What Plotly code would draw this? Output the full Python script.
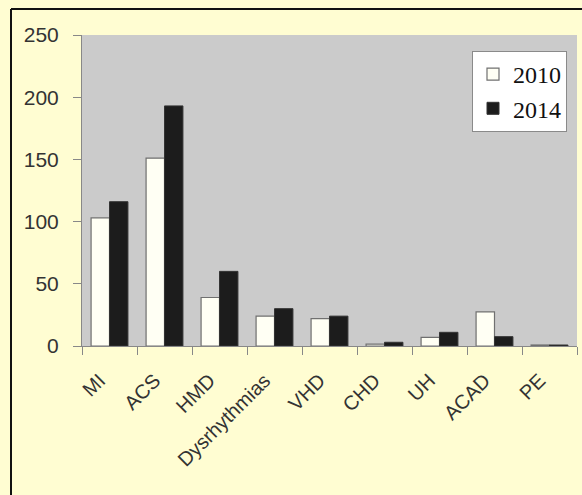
import plotly.graph_objects as go

categories = ["MI", "ACS", "HMD", "Dysrhythmias", "VHD", "CHD", "UH", "ACAD", "PE"]
values_2010 = [103, 151, 39, 24, 22, 1.5, 7, 27.5, 0.8]
values_2014 = [116, 193, 60, 30, 24, 3, 11, 7.5, 0.8]
y_ticks = [0, 50, 100, 150, 200, 250]

W, H = 582, 495
L, R, T, B = 82, 5, 35, 149
pw, ph = W - L - R, H - T - B

def px(x):
    return (x - L) / pw

def py(y):
    return (H - B - y) / ph

fig = go.Figure()
fig.add_bar(x=categories, y=values_2010, name="2010",
            marker=dict(color="#fffff4", line=dict(color="#707070", width=1.2)))
fig.add_bar(x=categories, y=values_2014, name="2014",
            marker=dict(color="#1c1c1c", line=dict(color="#333333", width=1)))

fig.update_layout(
    width=W, height=H,
    margin=dict(l=L, r=R, t=T, b=B),
    paper_bgcolor="#fffdd2",
    plot_bgcolor="#cbcbcb",
    barmode="group", bargap=0.33, bargroupgap=0,
    font=dict(family="Liberation Sans, Arial, sans-serif", color="#333333"),
    legend=dict(x=px(567), y=py(51), xanchor="right", yanchor="top",
                bgcolor="white", bordercolor="#8a8a8a", borderwidth=1,
                font=dict(family="Liberation Serif, Times New Roman, serif", size=24, color="#111111"),
                tracegroupgap=0, itemwidth=30),
    shapes=[
        dict(type="line", xref="paper", yref="paper", x0=px(11), x1=px(11), y0=py(9), y1=py(495),
             line=dict(color="#111111", width=2)),
        dict(type="line", xref="paper", yref="paper", x0=px(11), x1=px(582), y0=py(9), y1=py(9),
             line=dict(color="#111111", width=2)),
    ],
)
fig.update_xaxes(
    range=[-0.5, len(categories) - 0.5],
    tickangle=-45, tickfont=dict(size=20, color="#333333"),
    ticks="outside", tickson="boundaries", ticklen=8, tickcolor="#888888",
    ticklabelstandoff=14, ticklabelshift=-10,
    showline=True, linecolor="#888888", linewidth=1, showgrid=False,
)
fig.update_yaxes(
    range=[0, 250], tickvals=y_ticks, tickfont=dict(size=21, color="#333333"),
    ticks="outside", ticklen=8, tickcolor="#888888", ticklabelstandoff=10,
    showline=True, linecolor="#888888", linewidth=1, showgrid=False, zeroline=False,
)

fig.write_html("out.html")
